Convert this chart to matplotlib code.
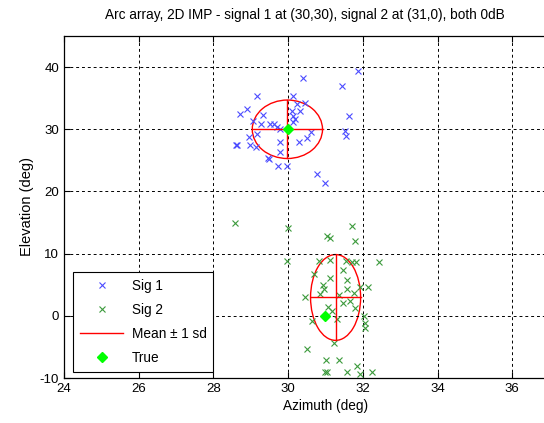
import numpy as np
import matplotlib.pyplot as plt
from matplotlib.patches import Ellipse
from matplotlib.lines import Line2D

plt.rcParams['font.family'] = ['Liberation Sans', 'DejaVu Sans']
plt.rcParams['font.size'] = 9.5
plt.rcParams['axes.unicode_minus'] = False

# Signal 1 estimates (azimuth, elevation)
sig1_az = [30.39, 31.44, 31.88, 29.16, 28.89, 28.71, 29.32, 29.05, 29.28, 29.16,
           28.94, 28.61, 28.64, 28.98, 29.14, 29.45, 29.48, 29.74, 29.97, 29.79,
           29.79, 30.28, 30.50, 30.61, 29.52, 29.61, 29.70, 29.79, 30.12, 30.10,
           30.14, 30.19, 30.25, 30.32, 30.46, 30.14, 31.62, 31.53, 31.55, 30.77,
           31.00]
sig1_el = [38.2, 37.0, 39.4, 35.4, 33.3, 32.4, 32.3, 31.3, 30.8, 29.2,
           28.7, 27.4, 27.4, 27.4, 27.2, 25.4, 25.2, 24.1, 24.1, 27.9,
           26.3, 27.9, 28.6, 29.6, 30.8, 30.8, 30.3, 30.0, 35.4, 32.9,
           32.1, 31.6, 34.0, 32.9, 34.3, 31.1, 32.1, 29.7, 28.9, 22.8,
           21.4]

# Signal 2 estimates
sig2_az = [29.99, 29.98, 31.71, 31.05, 31.11, 31.80, 30.82, 31.13, 31.55, 31.71,
           31.82, 32.42, 30.68, 31.48, 31.13, 31.57, 30.93, 30.96, 31.57, 31.75,
           31.93, 32.15, 30.86, 30.46, 31.37, 31.48, 31.66, 31.80, 31.08, 31.17,
           30.63, 31.32, 32.02, 32.06, 32.06, 31.23, 30.50, 31.02, 31.37, 31.84,
           30.99, 31.04, 31.57, 31.93, 32.24, 28.58]
sig2_el = [14.2, 8.8, 14.5, 12.9, 12.5, 12.1, 8.8, 9.0, 8.8, 8.7,
           8.7, 8.7, 6.8, 7.3, 6.1, 5.7, 5.0, 4.3, 4.3, 3.7,
           4.7, 4.7, 3.5, 3.1, 3.4, 2.1, 2.4, 1.3, 1.4, 0.8,
           -0.8, -0.5, 0.0, -1.1, -2.0, -4.4, -5.4, -7.1, -7.1, -8.0,
           -9.1, -9.1, -9.1, -9.3, -9.1, 15.0]

mean_az = [29.98, 31.27]
mean_el = [30.0, 2.95]
sd_az = [0.94, 0.67]
sd_el = [4.7, 6.9]

true_az = [30, 31]
true_el = [30, 0]

blue = '#4c4cff'
green = '#3c9a3c'

fig = plt.figure(figsize=(5.44, 4.23), dpi=100)
ax = fig.add_axes([64 / 544, 45 / 423, 523 / 544, 342 / 423])

ax.plot(sig1_az, sig1_el, 'x', color=blue, ms=5, mew=0.8, label='Sig 1')
ax.plot(sig2_az, sig2_el, 'x', color=green, ms=5, mew=0.8, label='Sig 2')

for i in range(2):
    e = Ellipse((mean_az[i], mean_el[i]), 2 * sd_az[i], 2 * sd_el[i],
                fill=False, edgecolor='red', lw=1.0)
    ax.add_patch(e)
    ax.plot([mean_az[i] - sd_az[i], mean_az[i] + sd_az[i]], [mean_el[i], mean_el[i]],
            color='red', lw=1.0)
    ax.plot([mean_az[i], mean_az[i]], [mean_el[i] - sd_el[i], mean_el[i] + sd_el[i]],
            color='red', lw=1.0)

ax.plot(true_az, true_el, 'D', color='#00ff00', ms=5, mec='#00ff00', label='True')

ax.set_xlim(24, 38)
ax.set_ylim(-10, 45)
ax.set_xticks([24, 26, 28, 30, 32, 34, 36])
ax.set_yticks([-10, 0, 10, 20, 30, 40])
ax.grid(True, color='black', linestyle=(0, (3, 3)), linewidth=0.7)
ax.tick_params(direction='in', top=True, right=True, length=4, width=0.8, labelsize=9.5)
for s in ax.spines.values():
    s.set_linewidth(0.9)

ax.set_xlabel('Azimuth (deg)', fontsize=9.8, labelpad=3)
ax.set_ylabel('Elevation (deg)', fontsize=10.5)
fig.text(305 / 544, 1 - 15 / 423, 'Arc array, 2D IMP - signal 1 at (30,30), signal 2 at (31,0), both 0dB',
         ha='center', va='center', fontsize=9.8)

handles = [
    Line2D([], [], marker='x', ls='none', color=blue, ms=5, mew=0.8),
    Line2D([], [], marker='x', ls='none', color=green, ms=5, mew=0.8),
    Line2D([], [], color='red', lw=1.0),
    Line2D([], [], marker='D', ls='none', color='#00ff00', ms=5),
]
leg = ax.legend(handles, ['Sig 1', 'Sig 2', 'Mean \u00b1 1 sd', 'True'],
                loc='lower left', bbox_to_anchor=(9 / 523, 6 / 342), fancybox=False,
                edgecolor='black', framealpha=1, handlelength=3.2, handletextpad=0.6,
                borderpad=0.5, labelspacing=0.75, borderaxespad=0, fontsize=9.8)
leg.get_frame().set_linewidth(0.8)

fig.savefig('out.png', dpi=100)
